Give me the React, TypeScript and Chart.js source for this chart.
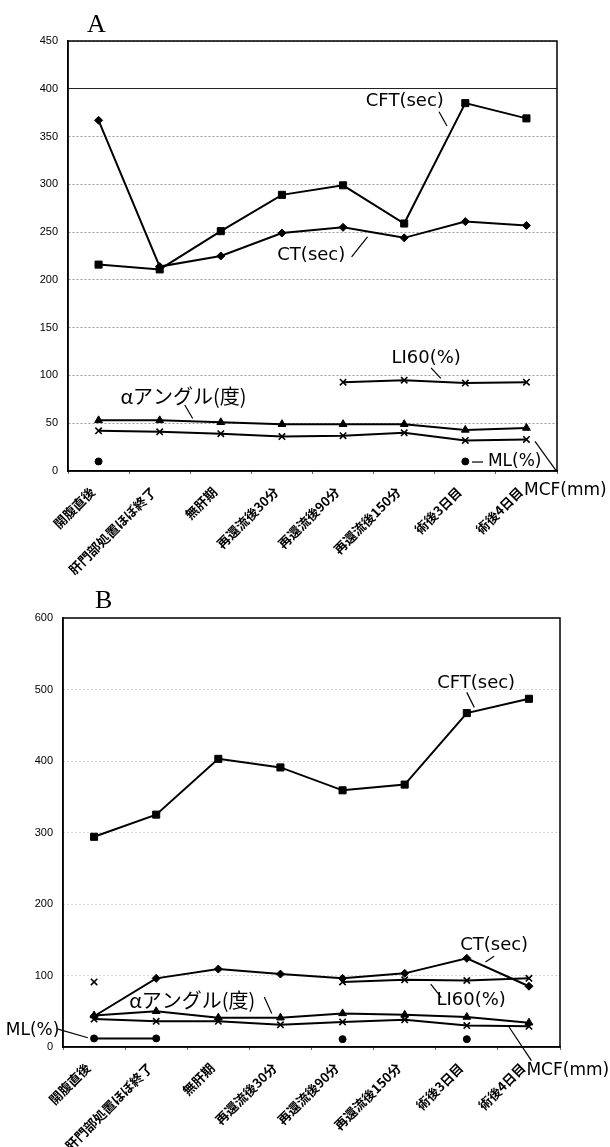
import { useEffect, useRef } from "react";
import { Chart, registerables } from "chart.js";
Chart.register(...registerables);

const categories = [
  "開腹直後",
  "肝門部処置ほぼ終了",
  "無肝期",
  "再還流後30分",
  "再還流後90分",
  "再還流後150分",
  "術後3日目",
  "術後4日目",
];

// Panel A
const ctA = [367, 214, 225, 249, 255, 244, 261, 257];
const cftA = [216, 211, 251, 289, 299, 259, 385, 369];
const li60A = [null, null, null, null, 93, 95, 92, 93];
const alphaA = [53, 53, 51, 49, 49, 49, 43, 45];
const mcfA = [42, 41, 39, 36, 37, 40, 32, 33];
const mlA = [10, null, null, null, null, null, 10, null];

// Panel B
const ctB = [43, 96, 109, 102, 96, 103, 124, 85];
const cftB = [294, 325, 403, 391, 359, 367, 467, 487];
const li60B = [91, null, null, null, 91, 94, 93, 96];
const alphaB = [44, 50, 41, 41, 47, 45, 42, 34];
const mcfB = [39, 36, 36, 31, 35, 38, 30, 29];
const mlB = [12, 12, null, null, 11, null, 11, null];

const yMaxA = 450;
const yStepA = 50;
const yMaxB = 600;
const yStepB = 100;

const LATIN = '18px "DejaVu Sans"';
const LATIN_S = '17px "DejaVu Sans"';
const JP = '20px "Noto Sans CJK JP"';

// annotation labels in data space: [category index, value]
const notesA = [
  { text: "CFT(sec)", font: LATIN, align: "center", at: [5.01, 387], line: [5.57, 376, 5.7, 361] },
  { text: "CT(sec)", font: LATIN, align: "center", at: [3.48, 226], line: [4.14, 224, 4.4, 245] },
  { text: "LI60(%)", font: LATIN, align: "center", at: [5.36, 118], line: [5.44, 108, 5.6, 97] },
  { text: "αアングル(度)", font: JP, align: "center", at: [1.39, 78], line: [1.41, 69, 1.54, 55] },
  { text: "ML(%)", font: LATIN_S, align: "left", at: [6.37, 9.4], line: [6.11, 9.4, 6.29, 9.4] },
  { text: "MCF(mm)", font: LATIN_S, align: "left", at: [6.96, -20], line: [7.14, 31, 7.5, -1] },
];

const notesB = [
  { text: "CFT(sec)", font: LATIN, align: "center", at: [6.15, 509], line: [6.0, 496, 6.12, 475] },
  { text: "CT(sec)", font: LATIN, align: "center", at: [6.44, 142], line: [6.3, 119, 6.44, 127] },
  { text: "LI60(%)", font: LATIN, align: "center", at: [6.07, 65], line: [5.42, 88, 5.59, 69] },
  { text: "αアングル(度)", font: JP, align: "center", at: [1.58, 65], line: [2.74, 70, 2.86, 47] },
  { text: "ML(%)", font: LATIN_S, align: "center", at: [-0.99, 23], line: [-0.58, 25, -0.1, 13] },
  { text: "MCF(mm)", font: LATIN_S, align: "left", at: [6.96, -33], line: [6.68, 28, 7.04, -19] },
];

function overlay(title: string, titleDx: number, titleDy: number, notes: any[]) {
  return {
    id: "overlay",
    afterDraw(chart: any) {
      const { ctx, chartArea: a } = chart;
      const x = chart.scales.x;
      const y = chart.scales.y;
      ctx.save();
      ctx.strokeStyle = "#000";
      ctx.lineWidth = 1.5;
      ctx.strokeRect(a.left, a.top, a.right - a.left, a.bottom - a.top);
      ctx.fillStyle = "#000";
      ctx.font = '26px "Liberation Serif"';
      ctx.textAlign = "left";
      ctx.textBaseline = "alphabetic";
      ctx.fillText(title, a.left + titleDx, a.top - titleDy);
      for (const n of notes) {
        ctx.font = n.font;
        ctx.textAlign = n.align;
        ctx.textBaseline = "middle";
        ctx.fillText(n.text, x.getPixelForValue(n.at[0]), y.getPixelForValue(n.at[1]));
        if (n.line) {
          ctx.beginPath();
          ctx.lineWidth = 1.2;
          ctx.moveTo(x.getPixelForValue(n.line[0]), y.getPixelForValue(n.line[1]));
          ctx.lineTo(x.getPixelForValue(n.line[2]), y.getPixelForValue(n.line[3]));
          ctx.stroke();
        }
      }
      ctx.restore();
    },
  };
}

function ds(data: any[], style: string, radius: number, extra: any = {}) {
  return {
    data,
    borderColor: "#000",
    backgroundColor: "#000",
    borderWidth: 2,
    pointStyle: style,
    pointRadius: radius,
    pointBorderWidth: 1,
    pointBackgroundColor: "#000",
    pointBorderColor: "#000",
    spanGaps: false,
    tension: 0,
    ...extra,
  };
}

function makeConfig(p: any) {
  return {
    type: "line",
    data: {
      labels: categories,
      datasets: [
        ds(p.cft, "rect", 5),
        ds(p.ct, "rectRot", 4),
        ds(p.li60, "crossRot", 4.5, { pointBorderWidth: 1.6 }),
        ds(p.alpha, "triangle", 4.5),
        ds(p.mcf, "crossRot", 4.5, { pointBorderWidth: 1.6 }),
        ds(p.ml, "circle", 3.5),
      ],
    },
    options: {
      animation: false,
      responsive: false,
      maintainAspectRatio: false,
      devicePixelRatio: 1,
      layout: { padding: { left: 0, right: p.padRight, top: p.padTop, bottom: 0 } },
      plugins: { legend: { display: false }, tooltip: { enabled: false }, title: { display: false } },
      scales: {
        x: {
          type: "category",
          offset: true,
          grid: { offset: true, drawOnChartArea: false, drawTicks: true, tickLength: 3, color: "#666" },
          border: { display: true, color: "#000", width: 1.5 },
          ticks: {
            autoSkip: false,
            maxRotation: 45,
            minRotation: 45,
            color: "#000",
            padding: 10,
            labelOffset: -6,
            font: { family: '"Noto Sans CJK JP"', size: 13, weight: "bold" },
          },
          afterFit: (s: any) => {
            s.height = p.xHeight;
          },
        },
        y: {
          min: 0,
          max: p.max,
          ticks: {
            stepSize: p.step,
            color: "#000",
            padding: 10,
            font: { family: '"Liberation Sans"', size: 11 },
          },
          grid: {
            drawTicks: false,
            lineWidth: 1,
            color: (c: any) => p.gridColor(c.tick ? c.tick.value : 0),
          },
          border: {
            display: true,
            color: "#000",
            width: 1.5,
            dash: (c: any) => p.gridDash(c.tick ? c.tick.value : 0),
          },
          afterFit: (s: any) => {
            s.width = p.yWidth;
          },
        },
      },
    },
    plugins: [overlay(p.title, p.titleDx, p.titleDy, p.notes)],
  };
}

const panelA = {
  title: "A",
  titleDx: 19,
  titleDy: 9,
  notes: notesA,
  ct: ctA,
  cft: cftA,
  li60: li60A,
  alpha: alphaA,
  mcf: mcfA,
  ml: mlA,
  max: yMaxA,
  step: yStepA,
  padRight: 53,
  padTop: 41,
  xHeight: 104,
  yWidth: 68,
  gridColor: (v: number) => (v === 400 ? "#222" : "#999"),
  gridDash: (v: number) => (v === 400 ? [] : [2, 2]),
};

const panelB = {
  title: "B",
  titleDx: 32,
  titleDy: 10,
  notes: notesB,
  ct: ctB,
  cft: cftB,
  li60: li60B,
  alpha: alphaB,
  mcf: mcfB,
  ml: mlB,
  max: yMaxB,
  step: yStepB,
  padRight: 50,
  padTop: 43,
  xHeight: 100,
  yWidth: 63,
  gridColor: () => "#aaa",
  gridDash: () => [1, 3],
};

export default function App() {
  const refA = useRef<HTMLCanvasElement>(null);
  const refB = useRef<HTMLCanvasElement>(null);
  useEffect(() => {
    const a = new Chart(refA.current as any, makeConfig(panelA) as any);
    const b = new Chart(refB.current as any, makeConfig(panelB) as any);
    return () => {
      a.destroy();
      b.destroy();
    };
  }, []);
  return (
    <div style={{ position: "absolute", left: 0, top: 0, width: 610, height: 1147, background: "#fff" }}>
      <canvas
        ref={refA}
        width={610}
        height={575}
        style={{ position: "absolute", left: 0, top: 0, width: 610, height: 575 }}
      />
      <canvas
        ref={refB}
        width={610}
        height={572}
        style={{ position: "absolute", left: 0, top: 575, width: 610, height: 572 }}
      />
    </div>
  );
}
